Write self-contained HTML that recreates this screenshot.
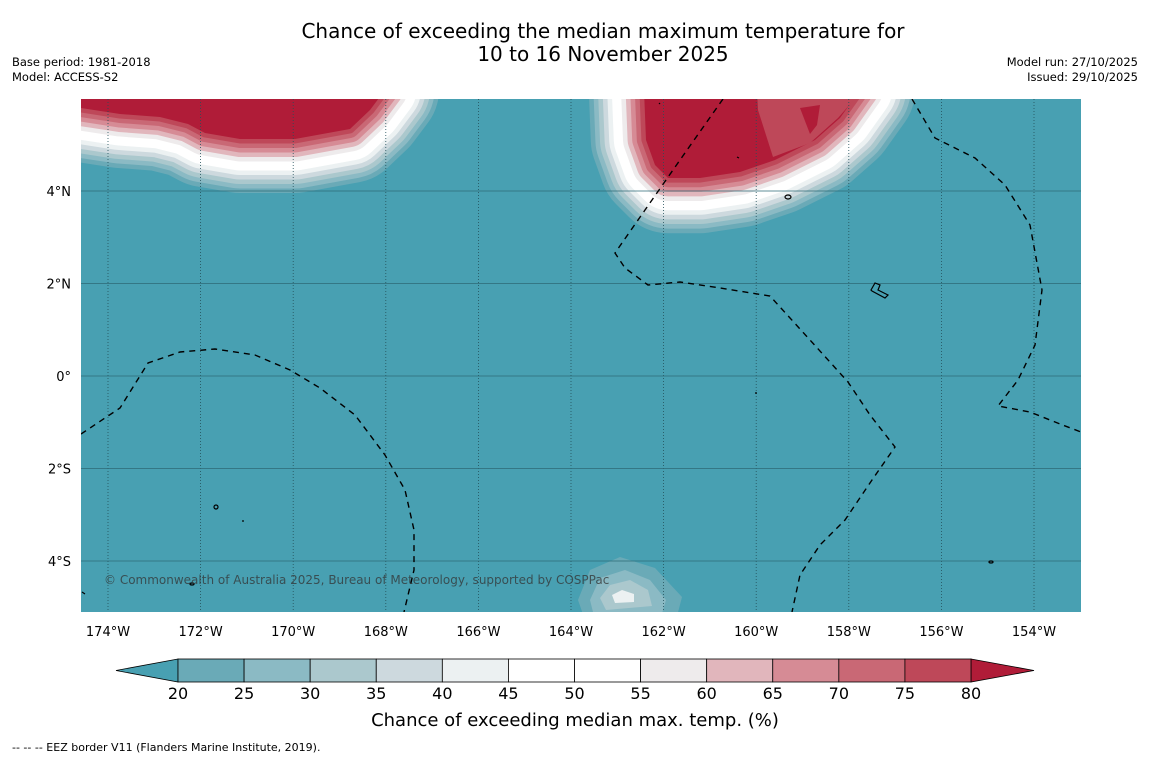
<!DOCTYPE html>
<html><head><meta charset="utf-8"><style>
body{margin:0;background:#fff;font-family:"DejaVu Sans","Liberation Sans",sans-serif;}
svg{display:block}
</style></head><body>
<svg width="1150" height="758" viewBox="0 0 1150 758">
<text x="603" y="38" font-size="20" text-anchor="middle">Chance of exceeding the median maximum temperature for</text>
<text x="603" y="61" font-size="20" text-anchor="middle">10 to 16 November 2025</text>
<text x="12" y="66" font-size="11.5">Base period: 1981-2018</text>
<text x="12" y="81" font-size="11.5">Model: ACCESS-S2</text>
<text x="1138" y="66" font-size="11.5" text-anchor="end">Model run: 27/10/2025</text>
<text x="1138" y="81" font-size="11.5" text-anchor="end">Issued: 29/10/2025</text>
<defs><clipPath id="mapclip"><rect x="81" y="99" width="1000" height="513"/></clipPath></defs>
<g id="map" clip-path="url(#mapclip)">
<rect x="81" y="99" width="1000" height="513" fill="#48a0b2"/>
<g id="blobs"></g>
<g id="grid"></g>
<g fill="none" stroke="#000" stroke-width="1.4" stroke-dasharray="6,5">
<path d="M81,434 L120,408 L148,363 L180,352 L215,349 L255,355 L290,370 L320,388 L355,415 L385,455 L405,490 L414,530 L414,570 L404,612"/>
<path d="M723,99 L680,160 L645,210 L615,253 L625,268 L648,285 L680,282 L720,288 L770,296 L810,340 L848,382 L870,415 L895,447 L872,480 L845,520 L820,545 L800,575 L792,612"/>
<path d="M912,99 L935,138 L975,158 L1005,185 L1030,225 L1042,290 L1035,345 L1018,380 L998,406 L1030,412 L1060,424 L1081,432"/>
</g>
<g fill="none" stroke="#000" stroke-width="1.2">
<ellipse cx="788" cy="197" rx="3" ry="2"/>
<path d="M871,290 L875,283 L880,285 L878,290 L888,295 L885,298 L872,291 Z"/>
<ellipse cx="216" cy="507" rx="2" ry="2"/>
<ellipse cx="192" cy="584" rx="2" ry="1"/>
<ellipse cx="991" cy="562" rx="2" ry="1"/>
<path d="M659,103 L660,104 M737,157 L739,158 M243,520 L243,522 M755,393 L757,393 M82,592 L85,594"/>
</g>
<text x="104" y="584" font-size="12" fill="#333" fill-opacity="0.75">© Commonwealth of Australia 2025, Bureau of Meteorology, supported by COSPPac</text>
</g>
<g id="axes" font-size="13"></g>
<g id="cbar"></g>
<text x="575" y="726" font-size="18" text-anchor="middle">Chance of exceeding median max. temp. (%)</text>
<text x="12" y="751" font-size="11">--  --  -- EEZ border V11 (Flanders Marine Institute, 2019).</text>
</svg>
<script>
const NS="http://www.w3.org/2000/svg";
const levels=[20,25,30,35,40,45,50,55,60,65,70,75,80];
const levelColors=["#6aaab7","#8bbac4","#abc8cd","#cdd9de","#ecf1f2","#ffffff","#ffffff","#eeebec","#e1b6bc","#d68b95","#c96875","#be4859"];
const overColor="#b01c38", underColor="#48a0b2";
const lonTicks=[174,172,170,168,166,164,162,160,158,156,154];
const latTicks=[4,2,0,-2,-4];
function xLon(lon){return 108+(174-lon)*46.3;}
function yLat(lat){return 376-lat*46.25;}
function xCb(v){return 178+(v-20)*(793/60);}
function mk(tag,attrs,parent){const e=document.createElementNS(NS,tag);for(const k in attrs)e.setAttribute(k,attrs[k]);parent.appendChild(e);return e;}
const blobs=document.getElementById('blobs');
function blob(d,step,name){
  for(let i=0;i<levelColors.length;i++){
    const off=(levelColors.length-i)*step;
    const p=mk('path',{d:d,fill:levelColors[i],stroke:levelColors[i],'stroke-width':2*off,'stroke-linejoin':'round'},blobs);
    
    
  }
  const c=mk('path',{d:d,fill:overColor},blobs);
  
  
}
blob("M60,70 L60,102 L81,108 L120,114 L160,117 L188,124 L205,133 L240,139 L295,139 L350,129 L370,110 L385,90 Z",4.5,'warm-anomaly-northwest');
blob("M644,90 L646,140 L655,165 L668,178 L700,178 L740,172 L775,160 L815,140 L840,118 L860,90 Z",4.6,'warm-anomaly-north');
const p2=mk('path',{d:"M757,90 L758,110 L773,157 L810,143 L838,118 L858,95 Z",fill:levelColors[11]},blobs);

const p3=mk('path',{d:"M800,108 L820,105 L817,125 L810,134 Z",fill:overColor},blobs);

[["#6aaab7","M578,600 L590,570 L620,557 L655,568 L682,597 L676,620 L585,620 Z"],["#8bbac4","M590,600 L600,578 L625,570 L650,580 L666,600 L660,620 L595,620 Z"],["#abc8cd","M600,598 L610,585 L630,580 L648,590 L652,606 L606,610 Z"],["#ecf1f2","M612,595 L622,590 L634,594 L634,602 L615,603 Z"]].forEach(a=>{
  const e=mk('path',{d:a[1],fill:a[0]},blobs);
  
  
});
const grid=document.getElementById('grid');
lonTicks.forEach(l=>{const x=xLon(l);
  const e=mk('line',{x1:x,x2:x,y1:99,y2:612,stroke:'#24505a','stroke-width':0.8,'stroke-dasharray':'1,2'},grid);
  
  });
latTicks.forEach(l=>{const y=yLat(l);
  const e=mk('line',{x1:81,x2:1081,y1:y,y2:y,stroke:'#2e6a76','stroke-width':0.8},grid);
  
  });
const axes=document.getElementById('axes');
lonTicks.forEach(l=>{const t=mk('text',{x:xLon(l),y:636,'text-anchor':'middle'},axes);t.textContent=l+'°W';
  
  });
latTicks.forEach(l=>{const t=mk('text',{x:71,y:yLat(l)+5,'text-anchor':'end'},axes);
  t.textContent=l===0?'0°':(Math.abs(l)+'°'+(l>0?'N':'S'));
  
  });
const cb=document.getElementById('cbar');
const tl=mk('path',{d:`M${xCb(20)},659 L116,670.5 L${xCb(20)},682 Z`,fill:underColor,stroke:'#000','stroke-width':0.8},cb);

const tr=mk('path',{d:`M${xCb(80)},659 L1034,670.5 L${xCb(80)},682 Z`,fill:overColor,stroke:'#000','stroke-width':0.8},cb);

for(let i=0;i<levelColors.length;i++){
  const r=mk('rect',{x:xCb(levels[i]),y:659,width:xCb(levels[i+1])-xCb(levels[i]),height:23,fill:levelColors[i],stroke:'#000','stroke-width':0.8},cb);
  
  
}
levels.forEach(v=>{const t=mk('text',{x:xCb(v),y:699,'text-anchor':'middle','font-size':16},cb);t.textContent=v;
  
  });
</script>
</body></html>
